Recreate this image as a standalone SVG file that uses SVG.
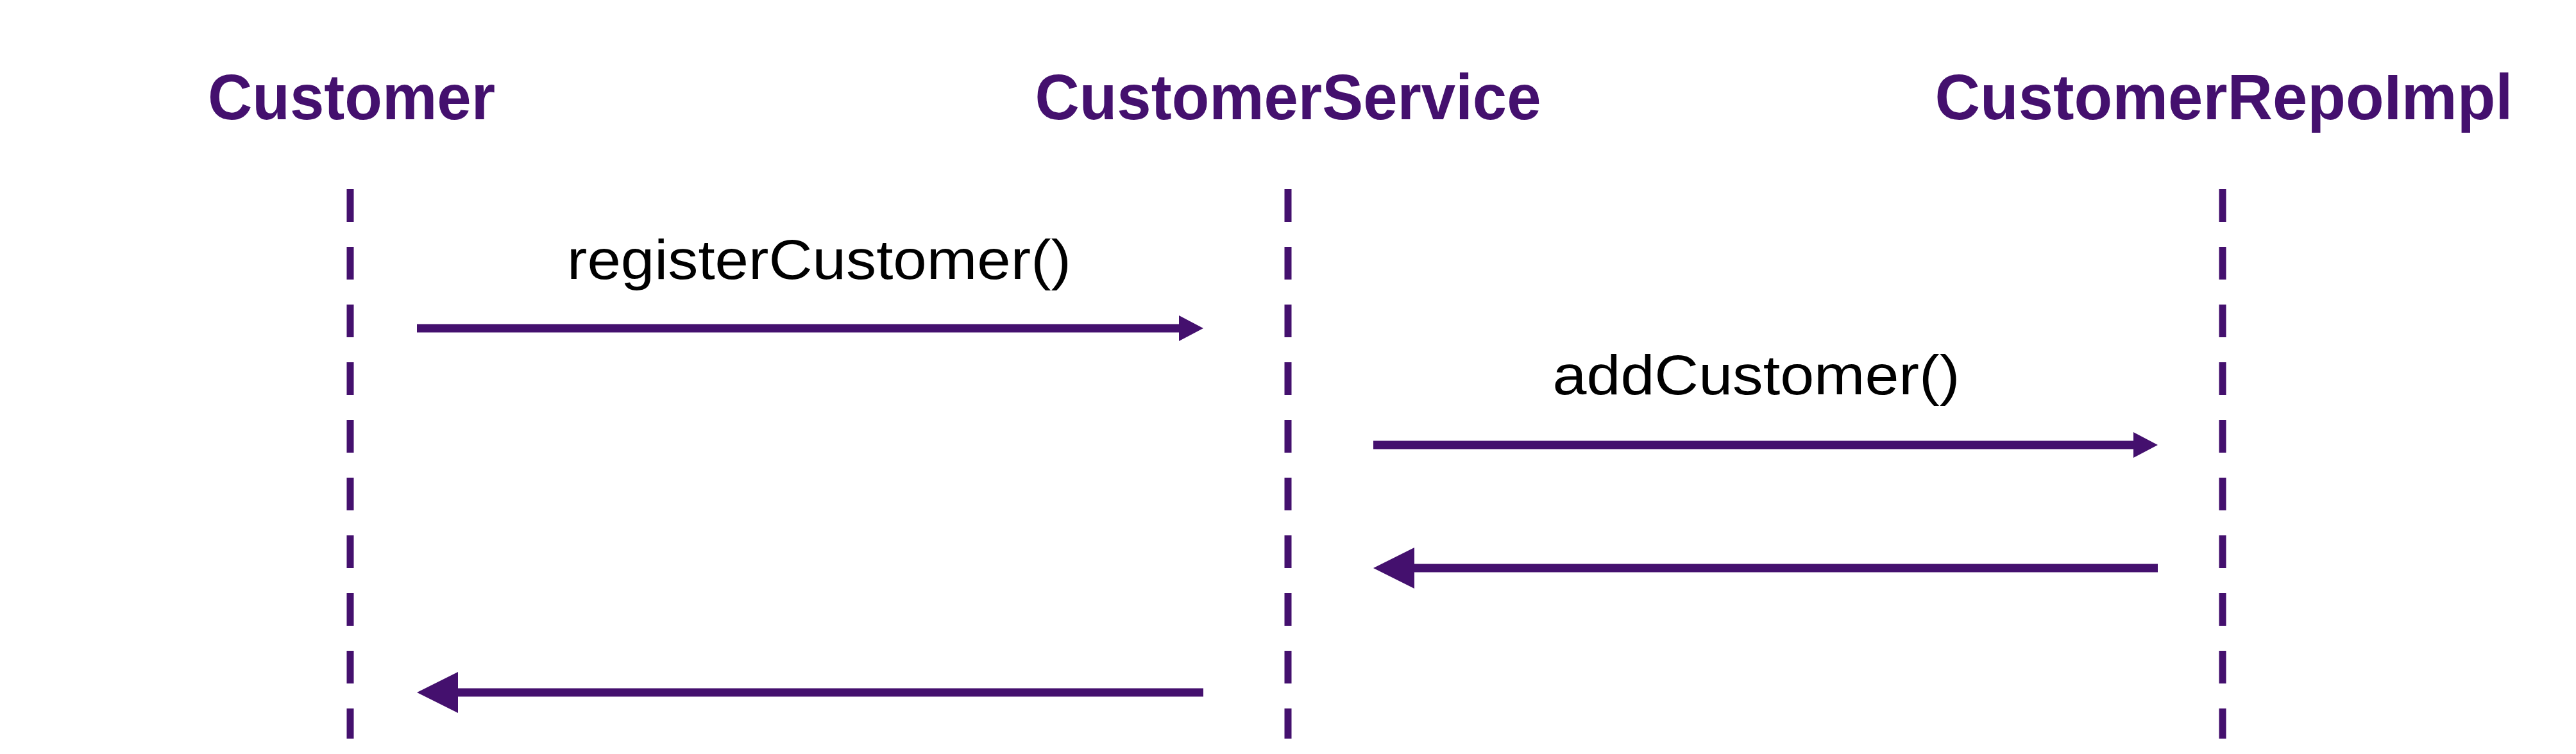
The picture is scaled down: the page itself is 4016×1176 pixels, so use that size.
<svg xmlns="http://www.w3.org/2000/svg" width="4016" height="1176" viewBox="0 0 4016 1176">
<style>
.title{font-family:"Liberation Sans",Arial,sans-serif;font-weight:bold;font-size:100px;fill:#44106e;text-anchor:middle}
.lbl{font-family:"Liberation Sans",Arial,sans-serif;font-size:88px;fill:#000;text-anchor:middle}
.life{stroke:#44106e;stroke-width:11;stroke-dasharray:51 39;fill:none}
.msg{stroke:#44106e;stroke-width:13;fill:none}
.head{fill:#44106e}
</style>
<rect width="4016" height="1176" fill="#fff"/>
<g id="customer">
<text class="title" x="548" y="186" textLength="448" lengthAdjust="spacingAndGlyphs">Customer</text>
<line class="life" x1="546" y1="295" x2="546" y2="1152"/>
</g>
<g id="customerService">
<text class="title" x="2008" y="186" textLength="789" lengthAdjust="spacingAndGlyphs">CustomerService</text>
<line class="life" x1="2008" y1="295" x2="2008" y2="1152"/>
</g>
<g id="customerRepoImpl">
<text class="title" x="3467" y="186" textLength="901" lengthAdjust="spacingAndGlyphs">CustomerRepoImpl</text>
<line class="life" x1="3465" y1="295" x2="3465" y2="1152"/>
</g>
<g id="connectors">
<text class="lbl" x="1277" y="435" textLength="786" lengthAdjust="spacingAndGlyphs">registerCustomer()</text>
<line class="msg" x1="650" y1="512" x2="1845" y2="512"/>
<polygon class="head" points="1838,492 1876,512 1838,532"/>
<text class="lbl" x="2738" y="615" textLength="635" lengthAdjust="spacingAndGlyphs">addCustomer()</text>
<line class="msg" x1="2141" y1="694" x2="3335" y2="694"/>
<polygon class="head" points="3326,674 3364,694 3326,714"/>
<line class="msg" x1="3364" y1="886" x2="2190" y2="886"/>
<polygon class="head" points="2205,854 2141,886 2205,918"/>
<line class="msg" x1="1876" y1="1080" x2="700" y2="1080"/>
<polygon class="head" points="714,1048 650,1080 714,1112"/>
</g>
</svg>
